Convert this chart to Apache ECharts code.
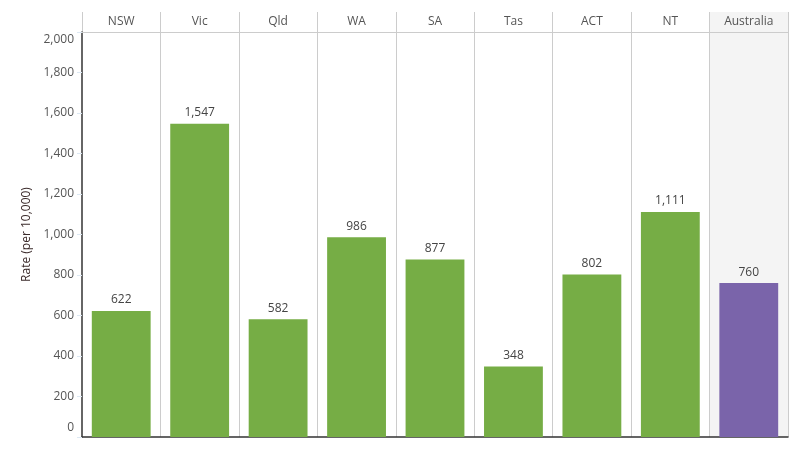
<!DOCTYPE html>
<html>
<head>
<meta charset="utf-8">
<script src="https://cdn.jsdelivr.net/npm/echarts@6/dist/echarts.min.js"></script>
<style>html,body{margin:0;padding:0;background:#fff}#c{width:800px;height:450px}</style>
</head>
<body>
<div id="c"></div>
<script>
const categories = ['NSW','Vic','Qld','WA','SA','Tas','ACT','NT','Australia'];
const rates = [622,1547,582,986,877,348,802,1111,760];
const yTicks = [0,200,400,600,800,1000,1200,1400,1600,1800,2000];

const GREEN = '#76AD45', PURPLE = '#7A64AA', BAND = '#F4F4F4', SEP = '#CCCCCC';
const FONT = 'Open Sans';
const FS = 12;
const fmt = v => Number(v).toLocaleString('en-US');
const bandColors = categories.map(c => c === 'Australia' ? BAND : 'rgba(0,0,0,0)');

const chart = echarts.init(document.getElementById('c'));
chart.setOption({
  animation: false,
  textStyle: { fontFamily: FONT },
  grid: [
    { left: 82, right: 12, top: 12, height: 20 },
    { left: 82, right: 12, top: 32, bottom: 13 }
  ],
  xAxis: [
    {
      type: 'category', gridIndex: 0, data: categories,
      axisLine: { show: true, lineStyle: { color: SEP, width: 1 } },
      axisTick: { show: false },
      axisLabel: { inside: true, margin: 4, color: '#555', fontSize: FS, fontFamily: FONT },
      splitLine: { show: true, showMinLine: true, showMaxLine: true, lineStyle: { color: SEP, width: 1 } },
      splitArea: { show: true, areaStyle: { color: bandColors } }
    },
    {
      type: 'category', gridIndex: 1, data: categories,
      axisLine: { show: true, lineStyle: { color: '#333', width: 1.5 } },
      axisTick: { show: false },
      axisLabel: { show: false },
      splitLine: { show: true, showMinLine: false, showMaxLine: true, lineStyle: { color: SEP, width: 1 } },
      splitArea: { show: true, areaStyle: { color: bandColors } }
    }
  ],
  yAxis: [
    { type: 'value', gridIndex: 0, show: false, min: 0, max: 1 },
    {
      type: 'value', gridIndex: 1, min: yTicks[0], max: yTicks[yTicks.length - 1], interval: 200,
      name: 'Rate (per 10,000)', nameLocation: 'middle', nameGap: 47,
      nameTextStyle: { color: '#3a2a2a', fontSize: FS, fontFamily: FONT },
      axisLine: { show: true, lineStyle: { color: '#333', width: 1.5 } },
      axisTick: { show: true, length: 5, lineStyle: { color: '#DCE8F3' } },
      splitLine: { show: false },
      axisLabel: {
        color: '#555', fontSize: FS, fontFamily: FONT, margin: 8,
        formatter: v => v === 0 ? '{lo|0}' : (v === 2000 ? '{hi|' + fmt(v) + '}' : fmt(v)),
        rich: {
          lo: { color: '#555', fontSize: FS, fontFamily: FONT, padding: [0, 0, 18, 0] },
          hi: { color: '#555', fontSize: FS, fontFamily: FONT, padding: [16, 0, 0, 0] }
        }
      }
    }
  ],
  series: [{
    type: 'bar', xAxisIndex: 1, yAxisIndex: 1,
    barCategoryGap: '25%',
    data: rates.map((v, i) => ({ value: v, itemStyle: { color: categories[i] === 'Australia' ? PURPLE : GREEN } })),
    label: { show: true, position: 'top', distance: 5, color: '#444', fontSize: FS, fontFamily: FONT, formatter: p => fmt(p.value) }
  }]
});
</script>
</body>
</html>
